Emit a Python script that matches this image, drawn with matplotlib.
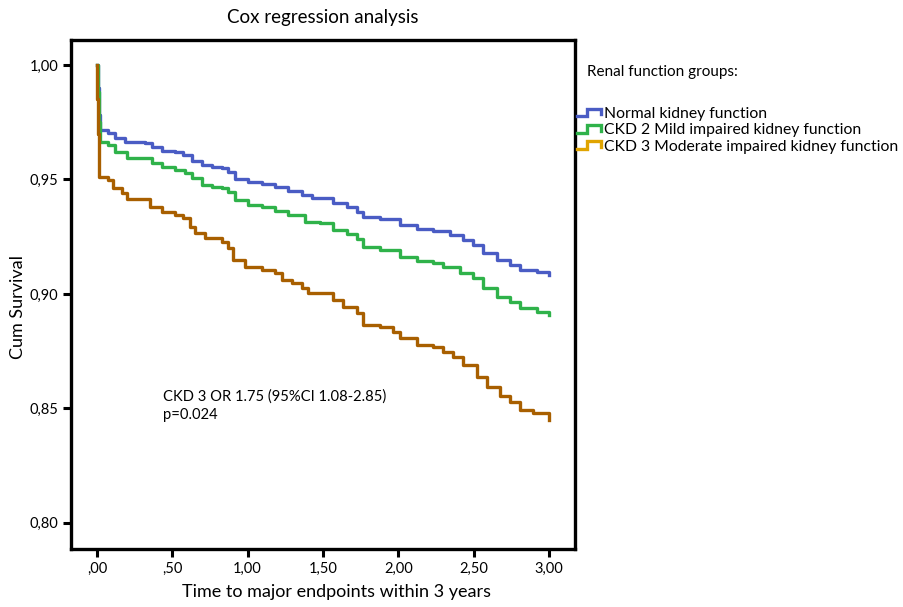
import numpy as np
import matplotlib
matplotlib.use("Agg")
import matplotlib.pyplot as plt
from matplotlib.lines import Line2D
from matplotlib.legend_handler import HandlerBase
from matplotlib.ticker import FuncFormatter

# ── Data ──────────────────────────────────────────────────

normal_t = [0.0, 0.005, 0.012, 0.020, 0.075, 0.119, 0.186, 0.319, 0.363, 0.429, 0.518, 0.573,
            0.628, 0.695, 0.761, 0.827, 0.871, 0.916, 1.004, 1.093, 1.181, 1.269, 1.358, 1.425,
            1.568, 1.657, 1.723, 1.767, 1.878, 2.011, 2.121, 2.232, 2.342, 2.431, 2.497, 2.563,
            2.652, 2.741, 2.807, 2.918, 3.0]
normal_s = [1.0, 0.990, 0.978, 0.9716, 0.9702, 0.9680, 0.9665, 0.9658, 0.9641, 0.9626, 0.9619, 0.9607,
            0.9582, 0.9563, 0.9553, 0.9549, 0.9534, 0.9501, 0.9490, 0.9480, 0.9469, 0.9451, 0.9432, 0.9418,
            0.9396, 0.9379, 0.9359, 0.9335, 0.9326, 0.9301, 0.9283, 0.9276, 0.9258, 0.9236, 0.9214, 0.9178,
            0.9148, 0.9127, 0.9105, 0.9097, 0.9083]

ckd2_t = [0.0, 0.005, 0.012, 0.020, 0.075, 0.119, 0.197, 0.319, 0.363, 0.429, 0.518, 0.584,
          0.628, 0.695, 0.761, 0.827, 0.871, 0.916, 1.004, 1.093, 1.181, 1.269, 1.380, 1.480,
          1.568, 1.657, 1.723, 1.767, 1.878, 2.011, 2.121, 2.232, 2.298, 2.409, 2.497, 2.563,
          2.652, 2.741, 2.807, 2.918, 3.0]
ckd2_s = [1.0, 0.988, 0.975, 0.9665, 0.9651, 0.9621, 0.9595, 0.9593, 0.9571, 0.9553, 0.9541, 0.9527,
          0.9505, 0.9476, 0.9469, 0.9462, 0.9447, 0.9410, 0.9389, 0.9379, 0.9364, 0.9345, 0.9316, 0.9309,
          0.9279, 0.9261, 0.9239, 0.9207, 0.9192, 0.9163, 0.9144, 0.9137, 0.9117, 0.9090, 0.9069, 0.9025,
          0.8988, 0.8966, 0.8938, 0.8923, 0.8908]

ckd3_t = [0.0, 0.003, 0.007, 0.013, 0.075, 0.108, 0.164, 0.197, 0.352, 0.429, 0.518, 0.573,
          0.617, 0.650, 0.717, 0.827, 0.871, 0.904, 0.982, 1.093, 1.181, 1.226, 1.292, 1.358,
          1.402, 1.480, 1.568, 1.634, 1.723, 1.767, 1.878, 1.966, 2.011, 2.121, 2.232, 2.298,
          2.364, 2.431, 2.520, 2.586, 2.674, 2.741, 2.807, 2.895, 3.0]
ckd3_s = [1.0, 0.985, 0.970, 0.9512, 0.9498, 0.9462, 0.9440, 0.9414, 0.9381, 0.9359, 0.9345, 0.9331,
          0.9294, 0.9265, 0.9243, 0.9228, 0.9200, 0.9148, 0.9119, 0.9105, 0.9090, 0.9061, 0.9047, 0.9025,
          0.9006, 0.9003, 0.8974, 0.8945, 0.8916, 0.8865, 0.8855, 0.8835, 0.8807, 0.8777, 0.8770, 0.8748,
          0.8726, 0.8690, 0.8639, 0.8595, 0.8552, 0.8530, 0.8493, 0.8479, 0.8450]

group_labels = ["Normal kidney function",
                "CKD 2 Mild impaired kidney function",
                "CKD 3 Moderate impaired kidney function"]

x_ticks = [0.0, 0.5, 1.0, 1.5, 2.0, 2.5, 3.0]
y_ticks = [0.80, 0.85, 0.90, 0.95, 1.00]

# ── Style ──────────────────────────────────────────────────

BLUE = "#4a5cc4"
GREEN = "#2fb24a"
BROWN = "#a85f00"
GOLD = "#e0a400"

plt.rcParams.update({
    "font.family": "Lato",
    "font.size": 11,
})


def comma_fmt(v, pos):
    s = f"{v:.2f}".replace(".", ",")
    if s.startswith("0,"):
        s = s[1:]
    return s


def comma_fmt_y(v, pos):
    return f"{v:.2f}".replace(".", ",")


class StepHandler(HandlerBase):
    # SPSS-style little step icon for the legend
    def create_artists(self, legend, orig_handle, xdescent, ydescent, width, height, fontsize, trans):
        xs = np.array([0, 0.42, 0.42, 1.0, 1.0]) * width - xdescent
        ys = np.array([0.15, 0.15, 0.85, 0.85, 0.35]) * height - ydescent
        ln = Line2D(xs, ys, color=orig_handle.get_color(), linewidth=2.4,
                    solid_joinstyle="miter")
        ln.set_transform(trans)
        return [ln]


fig = plt.figure(figsize=(9.04, 6.07), dpi=100)
ax = fig.add_axes([0.0785, 0.0956, 0.5575, 0.8385])

ax.plot(normal_t, normal_s, drawstyle="steps-post", color=BLUE, lw=2.4)
ax.plot(ckd2_t, ckd2_s, drawstyle="steps-post", color=GREEN, lw=2.4)
ax.plot(ckd3_t, ckd3_s, drawstyle="steps-post", color=BROWN, lw=2.4)

ax.set_xlim(-0.1725, 3.1725)
ax.set_ylim(0.7886, 1.0109)
ax.set_xticks(x_ticks)
ax.set_yticks(y_ticks)
ax.xaxis.set_major_formatter(FuncFormatter(comma_fmt))
ax.yaxis.set_major_formatter(FuncFormatter(comma_fmt_y))
ax.tick_params(direction="out", length=6, width=2.2, labelsize=10.5, pad=3)
for sp in ax.spines.values():
    sp.set_linewidth(2.4)

ax.set_xlabel("Time to major endpoints within 3 years", fontsize=13)
ax.xaxis.set_label_coords(0.526, -0.069)
ax.set_ylabel("Cum Survival", fontsize=13)
ax.yaxis.set_label_coords(-0.090, 0.475)
ax.set_title("Cox regression analysis", fontsize=13.5, pad=12)

ax.text(0.44, 0.8585, "CKD 3 OR 1.75 (95%CI 1.08-2.85)\np=0.024", fontsize=10.6,
        ha="left", va="top", linespacing=1.4)

handles = [Line2D([], [], color=BLUE), Line2D([], [], color=GREEN), Line2D([], [], color=GOLD)]
fig.text(587 / 904, 1 - 72 / 607, "Renal function groups:", fontsize=11, ha="left", va="center")
fig.legend(handles, group_labels, loc="upper left", bbox_to_anchor=(577 / 904, 1 - 107 / 607),
           frameon=False, fontsize=11.3, handlelength=1.5, handletextpad=0.2, labelspacing=0.15,
           borderpad=0, borderaxespad=0,
           handler_map={Line2D: StepHandler()})

fig.savefig("out.png", dpi=100)
